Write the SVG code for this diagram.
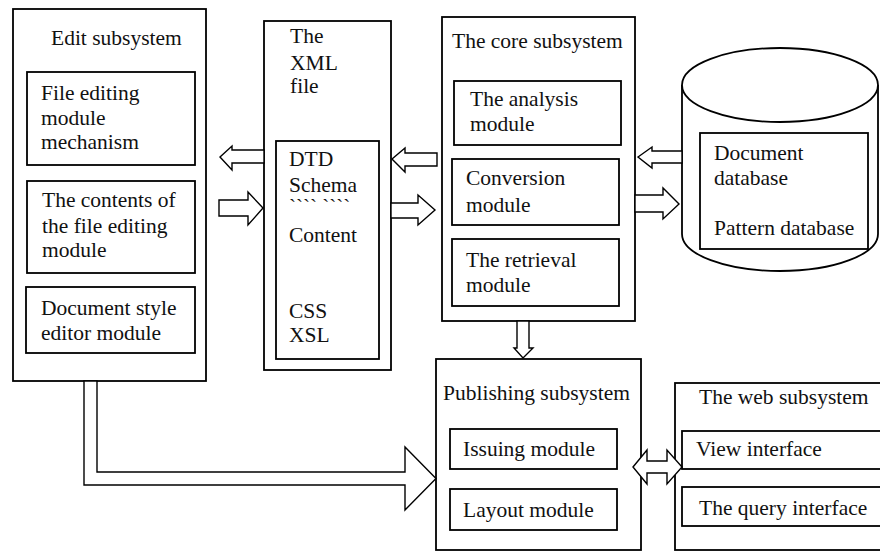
<svg xmlns="http://www.w3.org/2000/svg" width="880" height="551" viewBox="0 0 880 551">
<style>
.box{fill:#fff;stroke:#000;stroke-width:1.8}
.arr{fill:#fff;stroke:#000;stroke-width:1.4;stroke-linejoin:miter}
text{font-family:"Liberation Serif","Times New Roman",serif;font-size:21.5px;fill:#111}
.tick{font-size:21px}
</style>
<rect width="880" height="551" fill="#fff"/>
<g id="edit">
<rect class="box" x="13" y="9" width="193" height="372"/>
<text x="51" y="45">Edit subsystem</text>
<rect class="box" x="27" y="72" width="168" height="93"/>
<text x="41" y="100">File editing</text>
<text x="41" y="125">module</text>
<text x="41" y="149">mechanism</text>
<rect class="box" x="27" y="181" width="168" height="92"/>
<text x="42" y="207">The contents of</text>
<text x="42" y="233">the file editing</text>
<text x="42" y="257">module</text>
<rect class="box" x="26" y="287" width="169" height="66"/>
<text x="41" y="315">Document style</text>
<text x="41" y="340">editor module</text>
</g>
<g id="xml">
<rect class="box" x="264" y="21" width="127" height="349"/>
<text x="290" y="43">The</text>
<text x="290" y="70">XML</text>
<text x="290" y="93">file</text>
<rect class="box" x="276" y="141" width="103" height="218"/>
<text x="289" y="166">DTD</text>
<text x="289" y="192">Schema</text>
<text class="tick" x="289" y="214">```` ````</text>
<text x="289" y="242">Content</text>
<text x="289" y="318">CSS</text>
<text x="289" y="342">XSL</text>
</g>
<g id="core">
<rect class="box" x="442" y="17" width="193" height="304"/>
<text x="452" y="48">The core subsystem</text>
<rect class="box" x="454" y="81" width="167" height="64"/>
<text x="470" y="106">The analysis</text>
<text x="470" y="131">module</text>
<rect class="box" x="452" y="159" width="167" height="66"/>
<text x="466" y="185">Conversion</text>
<text x="466" y="212">module</text>
<rect class="box" x="452" y="239" width="167" height="67"/>
<text x="466" y="267">The retrieval</text>
<text x="466" y="292">module</text>
</g>
<g id="database">
<path class="box" d="M682,85 L682,234 A98,37 0 0 0 878,234 L878,85"/>
<ellipse class="box" cx="780" cy="85" rx="98" ry="37"/>
<rect class="box" x="700" y="133" width="168" height="116"/>
<text x="714" y="160">Document</text>
<text x="714" y="185">database</text>
<text x="714" y="235">Pattern database</text>
</g>
<g id="publishing">
<rect class="box" x="436" y="359" width="205" height="191"/>
<text x="443" y="400">Publishing subsystem</text>
<rect class="box" x="450" y="429" width="167" height="40"/>
<text x="463" y="456">Issuing module</text>
<rect class="box" x="450" y="489" width="167" height="41"/>
<text x="463" y="517">Layout module</text>
</g>
<g id="web">
<rect class="box" x="675" y="383" width="215" height="167"/>
<text x="699" y="404">The web subsystem</text>
<rect class="box" x="682" y="431" width="208" height="38"/>
<text x="696" y="456">View interface</text>
<rect class="box" x="682" y="487" width="208" height="39"/>
<text x="699" y="515">The query interface</text>
</g>
<g id="connectors">
<polygon class="arr" points="220,157 232,146 232,150 264,150 264,163 232,163 232,170"/>
<polygon class="arr" points="219,200 248,200 248,192 263,208 248,225 248,216 219,216"/>
<polygon class="arr" points="392,159 405,148 405,153 437,153 437,166 405,166 405,172"/>
<polygon class="arr" points="391,203 418,203 418,195 435,210 418,225 418,218 391,218"/>
<polygon class="arr" points="638,157 652,147 652,151 682,151 682,163 652,163 652,168"/>
<polygon class="arr" points="635,195 663,195 663,188 679,204 663,219 663,212 635,212"/>
<polygon class="arr" points="517,321 529,321 529,348 533,348 523,358 514,348 517,348"/>
<polygon class="arr" points="633,467 647,450 647,461 667,461 667,450 682,467 667,484 667,473 647,473 647,484"/>
<polygon class="arr" points="84,381 84,485 405,485 405,510 436,478.5 405,447 405,472 97,472 97,381"/>
</g>
</svg>
